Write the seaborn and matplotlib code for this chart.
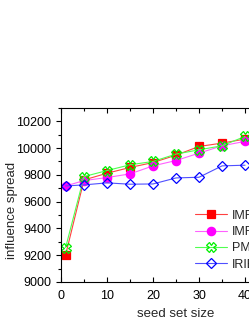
import pandas as pd
import matplotlib
matplotlib.use("Agg")
import matplotlib.pyplot as plt
from matplotlib.ticker import MultipleLocator
import seaborn as sns

# valores
seed_sizes = [1, 5, 10, 15, 20, 25, 30, 35, 40]
imrank1 = [9202, 9762, 9812, 9855, 9892, 9947, 10012, 10037, 10067]
imrank2 = [9717, 9757, 9780, 9807, 9867, 9907, 9962, 10017, 10050]
pmia = [9257, 9787, 9832, 9875, 9900, 9955, 9987, 10017, 10087]
irie = [9717, 9725, 9740, 9730, 9732, 9777, 9782, 9867, 9872]
labels = ["IMRank1", "IMRank2", "PMIA", "IRIE"]

sns.set_style("white")
plt.rcParams['font.family'] = ['Liberation Sans', 'DejaVu Sans']

df = pd.DataFrame({
    "seed": seed_sizes * 4,
    "spread": imrank1 + imrank2 + pmia + irie,
    "method": sum([[l] * len(seed_sizes) for l in labels], []),
})

fig = plt.figure(figsize=(2.49, 3.23), dpi=100)
ax = fig.add_axes([0.245, 0.127, 0.924, 0.539])

estilos = {
    "IMRank1": dict(marker="s", line="#ff4040", mfc="#ff0000", mec="#ff0000", ms=5.5),
    "IMRank2": dict(marker="o", line="#ff60ff", mfc="#ff00ff", mec="#ff00ff", ms=6),
    "PMIA": dict(marker="X", line="#50ff50", mfc="none", mec="#00ee00", ms=6.5),
    "IRIE": dict(marker="D", line="#5050ff", mfc="none", mec="#0000ff", ms=5),
}

for m in labels:
    s = estilos[m]
    sns.lineplot(data=df[df["method"] == m], x="seed", y="spread", ax=ax,
                 color=s["line"], marker=s["marker"], markersize=s["ms"],
                 markerfacecolor=s["mfc"], markeredgecolor=s["mec"],
                 markeredgewidth=0.9, linewidth=0.8, label=m)

ax.set_xlim(0, 50)
ax.set_ylim(9000, 10300)
ax.xaxis.set_major_locator(MultipleLocator(10))
ax.xaxis.set_minor_locator(MultipleLocator(5))
ax.yaxis.set_major_locator(MultipleLocator(200))
ax.yaxis.set_minor_locator(MultipleLocator(100))
ax.tick_params(axis="y", which="both", direction="out", left=True,
               labelsize=9, width=0.8, colors="black")
ax.tick_params(axis="x", which="both", direction="in", bottom=True, top=True,
               labelsize=9, width=0.8, colors="black", pad=6)
ax.tick_params(which="major", length=3.5)
ax.tick_params(which="minor", length=2)
for sp in ax.spines.values():
    sp.set_color("black")
    sp.set_linewidth(0.8)

ax.set_xlabel("seed set size", fontsize=9.5)
ax.set_ylabel("influence spread", fontsize=9.5)
ax.yaxis.set_label_coords(-0.185, 0.41)
ax.xaxis.set_label_coords(0.5, -0.15)

ax.legend(loc="upper left", bbox_to_anchor=(0.56, 0.445), frameon=False,
          fontsize=9, handlelength=2.6, handletextpad=0.4, labelspacing=0.35,
          borderaxespad=0)

fig.savefig("out.png", dpi=100)
